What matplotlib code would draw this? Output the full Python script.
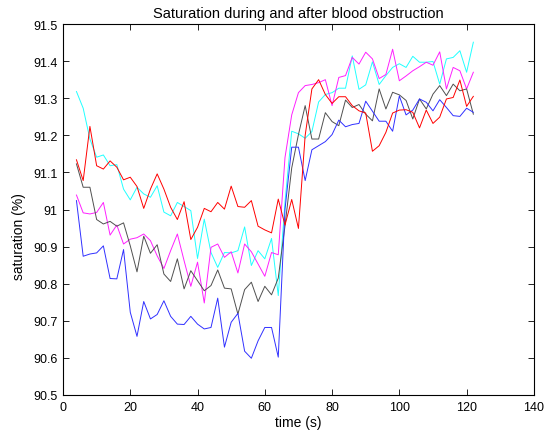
import matplotlib
matplotlib.use("Agg")
import matplotlib.pyplot as plt
from matplotlib.ticker import FuncFormatter

plt.rcParams['font.family'] = ['Liberation Sans', 'DejaVu Sans']

time_s = [4, 6, 8, 10, 12, 14, 16, 18, 20, 22, 24, 26, 28, 30, 32, 34, 36, 38, 40, 42,
          44, 46, 48, 50, 52, 54, 56, 58, 60, 62, 64, 66, 68, 70, 72, 74, 76, 78, 80, 82,
          84, 86, 88, 90, 92, 94, 96, 98, 100, 102, 104, 106, 108, 110, 112, 114, 116, 118, 120, 122]

sat_cyan = [91.318, 91.273, 91.190, 91.141, 91.147, 91.118, 91.121, 91.055, 91.026, 91.060,
            91.042, 91.033, 91.064, 90.993, 90.983, 91.019, 91.008, 90.997, 90.868, 90.974,
            90.884, 90.844, 90.884, 90.883, 90.889, 90.953, 90.849, 90.889, 90.867, 90.922,
            90.768, 91.020, 91.211, 91.204, 91.192, 91.210, 91.290, 91.310, 91.315, 91.327,
            91.327, 91.414, 91.324, 91.336, 91.398, 91.337, 91.361, 91.383, 91.393, 91.383,
            91.413, 91.397, 91.397, 91.399, 91.338, 91.406, 91.410, 91.428, 91.370, 91.451]

sat_magenta = [91.039, 90.991, 90.988, 90.992, 91.019, 90.931, 90.958, 90.907, 90.920, 90.924,
               90.934, 90.916, 90.875, 90.841, 90.889, 90.934, 90.862, 90.793, 90.858, 90.748,
               90.898, 90.907, 90.871, 90.886, 90.829, 90.907, 90.886, 90.853, 90.820, 90.884,
               90.878, 91.140, 91.255, 91.315, 91.334, 91.337, 91.342, 91.350, 91.280, 91.356,
               91.361, 91.410, 91.392, 91.424, 91.406, 91.353, 91.364, 91.432, 91.347, 91.360,
               91.374, 91.385, 91.397, 91.389, 91.425, 91.325, 91.383, 91.374, 91.325, 91.370]

sat_red = [91.134, 91.078, 91.224, 91.118, 91.109, 91.131, 91.114, 91.080, 91.087, 91.062,
           91.003, 91.055, 91.096, 91.055, 91.006, 90.973, 91.021, 90.919, 90.952, 91.003,
           90.994, 91.019, 91.001, 91.063, 91.008, 91.006, 91.024, 90.955, 90.945, 90.937,
           91.028, 90.958, 91.027, 90.949, 91.200, 91.325, 91.350, 91.310, 91.286, 91.304,
           91.304, 91.280, 91.266, 91.260, 91.157, 91.172, 91.208, 91.260, 91.268, 91.269,
           91.262, 91.220, 91.268, 91.232, 91.249, 91.298, 91.302, 91.349, 91.278, 91.305]

sat_black = [91.123, 91.060, 91.060, 90.973, 90.961, 90.968, 90.955, 90.964, 90.902, 90.832,
             90.928, 90.882, 90.905, 90.826, 90.806, 90.867, 90.786, 90.835, 90.808, 90.781,
             90.795, 90.837, 90.788, 90.786, 90.718, 90.784, 90.804, 90.752, 90.793, 90.770,
             90.815, 90.956, 91.112, 91.202, 91.280, 91.190, 91.190, 91.261, 91.237, 91.226,
             91.295, 91.275, 91.283, 91.257, 91.239, 91.325, 91.271, 91.316, 91.309, 91.294,
             91.244, 91.298, 91.271, 91.311, 91.334, 91.307, 91.338, 91.320, 91.325, 91.257]

sat_blue = [91.024, 90.874, 90.880, 90.883, 90.902, 90.814, 90.813, 90.892, 90.723, 90.658,
            90.752, 90.705, 90.717, 90.754, 90.712, 90.691, 90.690, 90.712, 90.691, 90.678,
            90.682, 90.761, 90.629, 90.696, 90.720, 90.618, 90.599, 90.646, 90.682, 90.682,
            90.602, 91.000, 91.168, 91.168, 91.078, 91.161, 91.172, 91.183, 91.202, 91.241,
            91.223, 91.229, 91.232, 91.292, 91.265, 91.238, 91.238, 91.211, 91.306, 91.255,
            91.268, 91.298, 91.289, 91.266, 91.296, 91.275, 91.253, 91.251, 91.273, 91.262]

x_ticks = [0, 20, 40, 60, 80, 100, 120, 140]
y_ticks = [90.5, 90.6, 90.7, 90.8, 90.9, 91.0, 91.1, 91.2, 91.3, 91.4, 91.5]

fig = plt.figure(figsize=(5.45, 4.39), dpi=100)
ax = fig.add_axes([0.1156, 0.098, 0.864, 0.845])

series = [
    (sat_cyan, '#20ffff'),
    (sat_magenta, '#ff20ff'),
    (sat_black, '#505050'),
    (sat_blue, '#3030ff'),
    (sat_red, '#ff0000'),
]
for values, color in series:
    ax.plot(time_s, values, color=color, linewidth=0.7)

ax.set_xlim(0, 140)
ax.set_ylim(90.5, 91.5)
ax.set_xticks(x_ticks)
ax.set_yticks(y_ticks)
ax.yaxis.set_major_formatter(FuncFormatter(lambda v, p: f"{v:g}"))
ax.tick_params(direction='in', top=True, right=True, length=4, width=0.6,
               labelsize=9, pad=4)
for sp in ax.spines.values():
    sp.set_linewidth(0.8)

ax.set_title("Saturation during and after blood obstruction", fontsize=10.5, pad=5)
ax.set_xlabel("time (s)", fontsize=10, labelpad=2)
ax.set_ylabel("saturation (%)", fontsize=10, labelpad=3)
ax.yaxis.set_label_coords(-0.078, 0.43)

fig.savefig("out.png", dpi=100)
